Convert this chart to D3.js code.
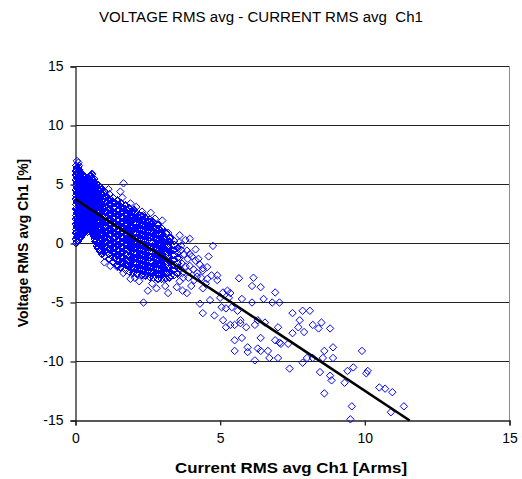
<!DOCTYPE html>
<html>
<head>
<meta charset="utf-8">
<script src="https://cdn.jsdelivr.net/npm/d3@7"></script>
<style>
  body { margin: 0; background: #fff; }
  svg { display: block; font-family: "Liberation Sans", Arial, sans-serif; }
</style>
</head>
<body>
<svg id="chart" width="522" height="479"></svg>
<script>
const xTicks = [0, 5, 10, 15];
const yTicks = [-15, -10, -5, 0, 5, 10, 15];

// dense part of the cloud, one current value per column of readings
const denseCurrent = [0.02, 0.09, 0.14, 0.23, 0.28, 0.37, 0.42, 0.51, 0.56, 0.65, 0.7, 0.79,
  0.9, 1.01, 1.17, 1.29, 1.45, 1.57, 1.73, 1.85, 2.01, 2.13, 2.29, 2.41, 2.57, 2.69, 2.85,
  2.97, 3.13, 3.25, 3.41, 3.53];
const denseVoltage = [
  [0.0, 0.37, 0.89, 1.18, 1.64, 2.05, 2.38, 2.93, 3.31, 3.75, 4.06, 4.56, 4.92, 5.4, 5.8, 6.14, 6.6],
  [0.22, 0.71, 1.03, 1.47, 1.92, 2.21, 2.69, 3.12, 3.44, 3.96, 4.3, 4.71, 5.17, 5.49, 5.98, 6.27, 6.5],
  [0.48, 0.8, 1.31, 1.66, 2.11, 2.47, 2.86, 3.35, 3.69, 4.15, 4.49, 4.93, 5.31, 5.74, 6.08],
  [0.69, 1.12, 1.43, 1.95, 2.27, 2.74, 3.09, 3.52, 3.87, 4.36, 4.68, 5.12, 5.47, 5.79],
  [0.93, 1.3, 1.78, 2.1, 2.58, 2.91, 3.36, 3.78, 4.11, 4.59, 4.9, 5.38, 5.72],
  [1.04, 1.49, 1.82, 2.31, 2.66, 3.02, 3.54, 3.86, 4.29, 4.72, 5.05, 5.52],
  [0.98, 1.36, 1.87, 2.19, 2.63, 3.1, 3.41, 3.89, 4.24, 4.67, 5.11, 5.5],
  [1.12, 1.58, 1.91, 2.38, 2.75, 3.18, 3.63, 3.98, 4.45, 4.81, 5.24, 5.68],
  [0.96, 1.4, 1.73, 2.24, 2.57, 3.04, 3.42, 3.84, 4.33, 4.64, 5.13, 5.47, 5.84],
  [0.62, 0.97, 1.49, 1.81, 2.29, 2.68, 3.07, 3.53, 3.9, 4.37, 4.74, 5.16, 5.48],
  [0.18, 0.63, 0.99, 1.42, 1.88, 2.2, 2.71, 3.06, 3.5, 3.93, 4.27, 4.75, 5.08],
  [-0.38, 0.04, 0.41, 0.9, 1.22, 1.71, 2.06, 2.52, 2.87, 3.36, 3.73, 4.14, 4.61, 4.93],
  [-0.88, -0.43, -0.07, 0.39, 0.77, 1.22, 1.6, 2.07, 2.44, 2.9, 3.26, 3.73, 4.12, 4.58],
  [-1.08, -0.7, -0.24, 0.16, 0.61, 0.98, 1.45, 1.83, 2.3, 2.68, 3.14, 3.53, 3.99, 4.43],
  [-1.33, -0.91, -0.52, -0.06, 0.31, 0.78, 1.15, 1.62, 2.0, 2.46, 2.85, 3.31, 3.7, 4.17],
  [-1.58, -1.17, -0.73, -0.34, 0.13, 0.5, 0.97, 1.36, 1.81, 2.21, 2.66, 3.05, 3.52, 3.88],
  [-1.84, -1.42, -0.98, -0.58, -0.14, 0.28, 0.7, 1.12, 1.55, 1.97, 2.41, 2.82, 3.26, 3.63],
  [-2.04, -1.63, -1.18, -0.79, -0.33, 0.06, 0.52, 0.91, 1.37, 1.76, 2.22, 2.61, 3.07, 3.43],
  [-2.22, -1.78, -1.38, -0.93, -0.53, -0.08, 0.33, 0.77, 1.18, 1.62, 2.03, 2.47, 2.88, 3.19],
  [-2.38, -1.97, -1.53, -1.12, -0.67, -0.27, 0.18, 0.58, 1.03, 1.43, 1.88, 2.28, 2.71, 3.0],
  [-2.48, -2.03, -1.63, -1.18, -0.78, -0.33, 0.07, 0.52, 0.92, 1.37, 1.77, 2.22, 2.62, 2.84],
  [-2.58, -2.17, -1.72, -1.32, -0.87, -0.47, -0.02, 0.38, 0.83, 1.23, 1.68, 2.08, 2.49],
  [-2.69, -2.24, -1.84, -1.39, -0.99, -0.54, -0.14, 0.31, 0.71, 1.16, 1.56, 2.01, 2.34],
  [-2.73, -2.33, -1.88, -1.48, -1.03, -0.63, -0.18, 0.22, 0.67, 1.07, 1.52, 1.92, 2.19],
  [-2.84, -2.39, -1.99, -1.54, -1.14, -0.69, -0.29, 0.16, 0.56, 1.01, 1.41, 1.83, 2.04],
  [-2.91, -2.46, -2.06, -1.61, -1.21, -0.76, -0.36, 0.09, 0.49, 0.94, 1.34, 1.79],
  [-2.98, -2.58, -2.13, -1.73, -1.28, -0.88, -0.43, -0.03, 0.42, 0.82, 1.27, 1.56],
  [-3.01, -2.56, -2.16, -1.71, -1.31, -0.86, -0.46, -0.01, 0.39, 0.84, 1.28],
  [-2.93, -2.53, -2.08, -1.68, -1.23, -0.83, -0.38, 0.02, 0.47, 0.86],
  [-2.86, -2.41, -2.01, -1.56, -1.16, -0.71, -0.31, 0.14, 0.5],
  [-2.68, -2.28, -1.83, -1.43, -0.98, -0.58, -0.13, 0.21],
  [-2.52, -2.07, -1.67, -1.22, -0.82, -0.37]
];

// more readings lying between those columns
const denseCurrentB = [0.05, 0.11, 0.19, 0.25, 0.33, 0.39, 0.46, 0.53, 0.6, 0.67, 0.74,
  0.84, 0.96, 1.09, 1.24, 1.36, 1.51, 1.64, 1.79, 1.92, 2.06, 2.22, 2.35, 2.5, 2.63, 2.78,
  2.91, 3.06, 3.19];
const denseVoltageB = [
  [0.12, 0.58, 0.93, 1.4, 1.76, 2.2, 2.6, 3.03, 3.5, 3.84, 4.31, 4.7, 5.1, 5.55, 5.95, 6.38],
  [0.4, 0.77, 1.22, 1.6, 2.02, 2.5, 2.81, 3.27, 3.73, 4.04, 4.52, 4.88, 5.3, 5.69, 6.15],
  [0.58, 1.0, 1.37, 1.83, 2.16, 2.62, 3.0, 3.41, 3.9, 4.22, 4.66, 5.06, 5.5, 5.92],
  [0.81, 1.21, 1.63, 2.03, 2.45, 2.84, 3.26, 3.7, 4.03, 4.51, 4.85, 5.28, 5.66],
  [1.16, 1.55, 1.97, 2.41, 2.79, 3.22, 3.61, 4.07, 4.43, 4.86, 5.26, 5.65],
  [1.22, 1.64, 2.06, 2.47, 2.89, 3.28, 3.72, 4.12, 4.53, 4.97, 5.38],
  [1.28, 1.7, 2.12, 2.52, 2.96, 3.33, 3.79, 4.17, 4.62, 5.0, 5.42],
  [1.17, 1.55, 2.0, 2.4, 2.86, 3.24, 3.68, 4.08, 4.51, 4.94, 5.33, 5.74],
  [0.79, 1.18, 1.6, 2.01, 2.46, 2.84, 3.26, 3.71, 4.09, 4.55, 4.96, 5.36],
  [0.38, 0.83, 1.2, 1.66, 2.05, 2.47, 2.9, 3.3, 3.76, 4.14, 4.58, 4.98],
  [-0.18, 0.26, 0.62, 1.08, 1.46, 1.87, 2.31, 2.7, 3.14, 3.55, 3.98, 4.41, 4.82],
  [-0.62, -0.15, 0.24, 0.67, 1.09, 1.48, 1.93, 2.29, 2.76, 3.12, 3.58, 3.97, 4.41, 4.79],
  [-0.83, -0.36, 0.03, 0.5, 0.86, 1.33, 1.71, 2.17, 2.58, 2.96, 3.44, 3.8, 4.27],
  [-0.74, -0.3, 0.12, 0.55, 0.94, 1.41, 1.79, 2.25, 2.64, 3.07, 3.5, 3.92],
  [-1.02, -0.56, -0.15, 0.27, 0.72, 1.1, 1.57, 1.95, 2.42, 2.8, 3.27, 3.7],
  [-1.25, -0.8, -0.38, 0.04, 0.49, 0.88, 1.34, 1.73, 2.19, 2.58, 3.04, 3.46],
  [-1.44, -1.0, -0.57, -0.15, 0.29, 0.69, 1.14, 1.53, 1.99, 2.39, 2.84, 3.22],
  [-1.63, -1.2, -0.76, -0.35, 0.1, 0.49, 0.95, 1.34, 1.8, 2.19, 2.65, 3.02],
  [-1.83, -1.39, -0.96, -0.54, -0.1, 0.29, 0.75, 1.14, 1.6, 1.99, 2.45, 2.82],
  [-1.99, -1.55, -1.12, -0.69, -0.26, 0.14, 0.59, 0.98, 1.44, 1.84, 2.3, 2.67],
  [-2.09, -1.65, -1.21, -0.79, -0.36, 0.04, 0.49, 0.88, 1.34, 1.74, 2.19, 2.53],
  [-2.19, -1.75, -1.31, -0.89, -0.46, -0.06, 0.39, 0.79, 1.24, 1.64, 2.09, 2.38],
  [-2.28, -1.84, -1.41, -0.98, -0.56, -0.16, 0.29, 0.69, 1.14, 1.54, 1.97],
  [-2.34, -1.9, -1.46, -1.04, -0.61, -0.21, 0.24, 0.64, 1.04, 1.46, 1.88],
  [-2.44, -2.0, -1.56, -1.14, -0.71, -0.31, 0.14, 0.54, 0.96, 1.36, 1.72],
  [-2.53, -2.09, -1.66, -1.24, -0.81, -0.41, 0.04, 0.44, 0.86, 1.27],
  [-2.59, -2.15, -1.71, -1.29, -0.86, -0.46, -0.01, 0.39, 0.81, 1.17],
  [-2.54, -2.1, -1.66, -1.24, -0.81, -0.41, 0.04, 0.46],
  [-2.44, -2.0, -1.56, -1.14, -0.71, -0.31, 0.16]
];

// scattered readings, [current, voltage]
const sparsePoints = [
  [0.05, 7.0], [0.1, 6.85], [0.12, 6.6], [0.58, 5.9],
  [1.14, 4.6], [1.66, 5.1], [1.55, 4.4], [1.62, 3.9], [1.9, 3.4], [2.1, 3.1], [2.35, 2.4],
  [2.3, 2.7], [2.6, 2.6], [2.75, 2.1], [2.65, 1.35], [3.0, 1.95], [3.2, 0.9], [3.3, 0.5],
  [3.6, 0.7], [3.5, -0.6], [3.65, -0.2], [3.8, 0.3], [3.85, -0.6], [3.6, -1.2], [3.95, -0.9],
  [3.95, -1.9], [4.25, -1.3], [4.6, -1.1], [4.75, -0.2], [4.15, -0.5], [3.95, 0.4],
  [4.15, -1.45], [4.55, -2.0], [4.2, -2.5], [4.4, -2.1], [4.55, -3.0], [4.9, -3.1],
  [4.9, -2.7], [5.25, -4.0], [5.65, -2.95], [4.4, -2.3], [4.7, -2.7], [4.2, -2.8],
  [4.5, -3.4], [3.9, -2.9], [3.7, -2.5], [3.6, -3.2], [3.3, -2.7], [3.05, -3.0],
  [3.62, -2.2], [3.68, -1.7], [3.75, -0.9], [3.72, -2.9], [3.8, -1.95], [3.88, -1.3],
  [3.9, -2.4], [4.02, -1.1], [4.08, -2.2], [4.1, -3.1], [3.66, -0.55], [4.3, -1.8],
  [4.35, -2.9], [3.58, 0.1],
  [1.0, -1.6], [1.2, -1.9], [1.45, -2.0], [1.65, -2.5], [1.9, -3.0], [2.05, -2.9],
  [2.35, -2.7], [2.2, -3.2], [2.5, -4.0], [2.65, -3.4], [2.8, -3.8], [3.1, -3.6],
  [3.2, -4.2], [2.35, -5.0], [3.5, -3.7], [3.7, -4.0], [3.85, -4.2], [4.0, -3.6],
  [4.4, -3.8], [4.3, -5.1], [4.65, -4.8], [5.0, -4.6], [5.1, -4.15], [5.3, -4.6], [5.35, -4.2],
  [6.15, -2.9], [6.1, -3.6], [6.4, -3.7], [6.9, -4.15], [6.5, -4.7], [6.8, -5.0], [7.05, -5.0],
  [6.1, -5.0], [5.75, -4.7], [5.05, -5.4], [5.4, -5.4], [5.2, -5.5], [5.6, -5.7], [4.4, -5.9],
  [4.8, -6.1], [5.1, -6.5], [5.7, -6.5], [5.35, -6.9], [5.5, -6.9], [5.7, -6.75], [5.9, -7.1],
  [5.2, -7.1], [6.2, -6.9], [6.3, -6.5], [6.55, -6.7], [7.0, -7.1], [7.5, -5.9], [7.85, -5.7],
  [8.1, -5.7], [7.75, -6.5], [8.2, -6.9], [8.5, -6.7], [8.4, -7.2], [8.8, -7.2], [7.7, -7.1],
  [7.9, -7.5], [7.5, -7.6], [5.75, -8.0], [5.5, -8.2], [6.4, -8.0], [6.9, -8.2], [7.05, -8.4],
  [7.1, -8.5], [7.35, -8.5], [5.95, -8.8], [6.3, -8.9], [5.5, -9.1], [5.95, -9.2], [6.4, -9.1],
  [6.65, -9.1], [6.2, -9.9], [6.7, -9.7], [7.0, -9.7], [7.4, -10.6], [7.85, -10.1], [8.0, -9.7],
  [8.2, -9.7], [8.55, -9.7], [8.6, -9.1], [8.9, -8.8], [8.9, -9.7], [9.9, -9.1], [8.45, -10.9],
  [8.8, -11.2], [8.85, -11.6], [9.4, -10.8], [9.6, -10.5], [9.3, -11.8], [10.1, -10.8],
  [10.05, -11.0], [10.5, -12.2], [10.7, -12.3], [10.95, -12.6], [8.6, -12.7], [9.55, -13.8],
  [9.5, -14.9], [10.9, -14.3], [11.35, -13.8]
];

// linear trendline end points
const trendCurrent = [0, 11.55];
const trendVoltage = [3.75, -15];

const svg = d3.select("#chart");

const x = d3.scaleLinear().domain([0, 15]).range([75.5, 509.5]);
const y = d3.scaleLinear().domain([-15, 15]).range([420.5, 66.5]);

// title
svg.append("text")
  .attr("x", 261)
  .attr("y", 22)
  .attr("text-anchor", "middle")
  .attr("font-size", 14)
  .attr("textLength", 324)
  .attr("lengthAdjust", "spacingAndGlyphs")
  .style("white-space", "pre")
  .text("VOLTAGE RMS avg - CURRENT RMS avg  Ch1");

// horizontal gridlines
svg.append("g")
  .selectAll("line")
  .data(yTicks.filter((d) => d > -15))
  .join("line")
  .attr("x1", x(0))
  .attr("x2", x(15))
  .attr("y1", (d) => y(d))
  .attr("y2", (d) => y(d))
  .attr("stroke", "#222")
  .attr("stroke-width", 1);

// right border of plot area
svg.append("line")
  .attr("x1", x(15)).attr("x2", x(15))
  .attr("y1", y(15)).attr("y2", y(-15))
  .attr("stroke", "#8c8c8c")
  .attr("stroke-width", 1);

// y axis
const yAxis = svg.append("g")
  .attr("transform", `translate(${x(0)},0)`)
  .call(d3.axisLeft(y).tickValues(yTicks).tickSize(5).tickPadding(7).tickFormat(d3.format("d")));

// x axis
const xAxis = svg.append("g")
  .attr("transform", `translate(0,${y(-15)})`)
  .call(d3.axisBottom(x).tickValues(xTicks).tickSize(5).tickPadding(8).tickFormat(d3.format("d")));

[yAxis, xAxis].forEach((g) => {
  g.select(".domain").attr("stroke", "#222").attr("stroke-width", 1.3);
  g.selectAll(".tick line").attr("stroke", "#222").attr("stroke-width", 1.3);
  g.selectAll(".tick text")
    .attr("font-family", "Liberation Sans, Arial, sans-serif")
    .attr("font-size", 14)
    .attr("fill", "#000");
});
yAxis.selectAll(".tick text").text((d) => String(d).replace("\u2212", "-"));

// scatter points
const densePoints = [];
denseCurrent.forEach((c, i) => {
  denseVoltage[i].forEach((v) => densePoints.push({ current: c, voltage: v }));
});
denseCurrentB.forEach((c, i) => {
  denseVoltageB[i].forEach((v) => densePoints.push({ current: c, voltage: v }));
});
const loosePoints = sparsePoints.map((p) => ({ current: p[0], voltage: p[1] }));

const r = 3.7;
const diamond = `M0,${-r}L${r},0L0,${r}L${-r},0Z`;

function drawMarkers(data, rendering) {
  svg.append("g")
    .attr("shape-rendering", rendering)
    .selectAll("path")
    .data(data)
    .join("path")
    .attr("d", diamond)
    .attr("transform", (d) => `translate(${x(d.current)},${y(d.voltage)})`)
    .attr("fill", "none")
    .attr("stroke", "#0000ff")
    .attr("stroke-width", 1);
}

drawMarkers(densePoints, "crispEdges");
drawMarkers(loosePoints, "auto");

// trendline
svg.append("path")
  .datum(trendCurrent.map((c, i) => [c, trendVoltage[i]]))
  .attr("d", d3.line().x((d) => x(d[0])).y((d) => y(d[1])))
  .attr("stroke", "#000")
  .attr("stroke-width", 2.6)
  .attr("fill", "none");

// axis titles
svg.append("text")
  .attr("x", 291)
  .attr("y", 473)
  .attr("text-anchor", "middle")
  .attr("font-size", 15)
  .attr("font-weight", "bold")
  .attr("textLength", 232)
  .attr("lengthAdjust", "spacingAndGlyphs")
  .text("Current RMS avg Ch1 [Arms]");

svg.append("text")
  .attr("transform", "translate(28,243) rotate(-90)")
  .attr("text-anchor", "middle")
  .attr("font-size", 14)
  .attr("font-weight", "bold")
  .text("Voltage RMS avg Ch1 [%]");
</script>
</body>
</html>
